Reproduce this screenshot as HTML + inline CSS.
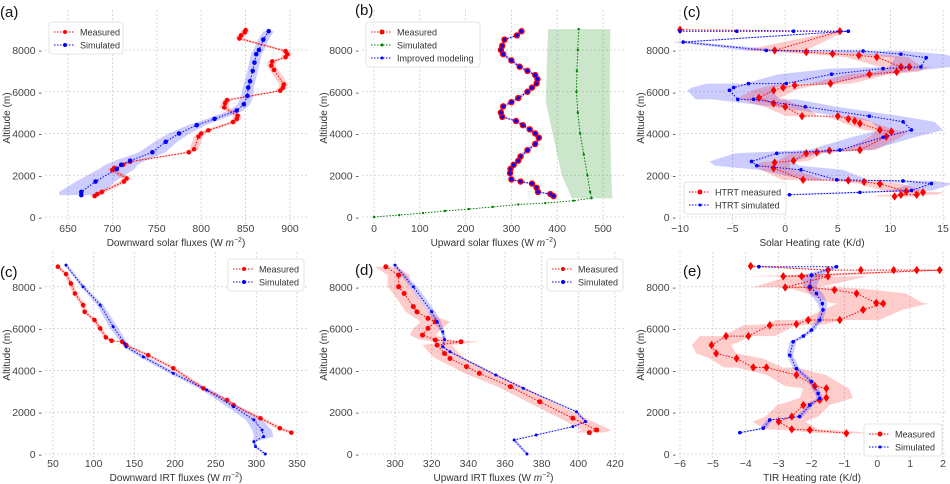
<!DOCTYPE html>
<html><head><meta charset="utf-8"><style>
html,body{margin:0;padding:0;background:#fff;}
svg{display:block;font-family:"Liberation Sans",sans-serif;}
</style></head><body>
<svg id="fig" width="950" height="484" viewBox="0 0 950 484" xmlns="http://www.w3.org/2000/svg"></svg>
<script>
// ---- data (altitude m, value) ----
const aMeasAlt=[8950,8850,8700,8550,7950,7800,7650,7450,7250,7050,6350,6200,6050,5600,5450,5250,4850,4700,4550,4150,4000,3850,3250,3100,2650,2500,2350,2250,1850,1700,1200,1100,1000];
const aMeasVal=[850,849,845,843,895,897,895,880,879,882,893,892,889,829,827,826,841,840,836,808,800,797,792,786,720,712,702,700,716,713,688,683,680];
const aMeasHW=[5,5,5,5,5,5,5,5,5,5,5,5,5,5,5,5,5,5,5,5,5,5,5,5,5,5,5,5,5,5,5,5,5];
const aSimAlt=[8900,8500,8000,7800,7400,7000,6500,6200,5800,5400,5100,4700,4400,4000,3600,3100,2700,2500,2300,1700,1200,1050];
const aSimVal=[876,870,865,862,860,858,855,853,852,848,840,815,795,775,760,745,720,710,705,681,665,665];
const aSimHW=[6,6,6,6,6,6,6,6,7,7,8,9,10,12,13,15,17,18,20,22,25,25];

const bMeasAlt=[8900,8700,8500,8200,8000,7800,7500,7200,7000,6800,6600,6400,6200,6000,5700,5500,5300,5000,4800,4600,4400,4200,4000,3800,3500,3200,2900,2700,2500,2300,2100,1800,1700,1600,1400,1200,1100,1000];
const bMeasVal=[322,312,285,280,277,282,300,318,335,352,357,355,345,335,315,300,282,277,280,310,325,340,352,360,352,335,320,315,305,298,297,300,320,345,355,358,385,392];
const bSimAlt=[9000,8000,7000,6000,5000,4000,3000,2000,1200,900,780,670,600,480,380,290,190,95,0];
const bSimVal=[447,445,443,442,445,450,458,466,472,475,436,374,315,259,207,155,107,55,0];
const bBandAlt=[9000,7000,5500,4000,3000,2000,1500,1000,900];
const bBandLo=[380,377,375,390,400,410,420,430,432];
const bBandHi=[516,515,515,516,517,518,519,520,522];

const ctMeasAlt=[8970,8900,7980,7900,7820,7740,7660,7190,7190,6950,6840,6390,6310,6200,6070,5710,5440,5280,4830,4830,4700,4600,4480,4170,4090,3850,3210,3180,3100,3050,2700,2610,2340,1780,1750,1680,1590,1220,1180,1065,1065,985];
const ctMeasVal=[-10,5.2,-1,2,4.5,7,8.7,11,11.8,10.6,8,4.3,0.9,-0.2,-1.1,-2.5,-1.1,0,1.6,5,6,6.6,7.1,9,10.1,9.6,7.1,4.2,3,2,0.8,-1,-1.1,1.7,6,7.5,9,11.5,13.1,12.5,11,10.4];
const ctMeasHW=[0.5,0.5,3,3,3,3,3,2,2,2,2,2,2,2,2,2,2,2,1.5,1.5,1.5,1.5,1.5,1.5,1.5,1.5,1.5,1.5,1.5,1.5,1.5,1.5,1.5,2,2,2,2,2,2,2,2,2];
const ctSimAlt=[8900,8900,8900,8900,8380,7980,7950,7800,7630,7190,7110,6840,6390,6390,6200,6070,5630,5640,5280,4830,4560,4170,3820,3210,3050,2660,2460,2260,1780,1730,1600,1270,1180,1065];
const ctSimVal=[-10,-4.6,0.8,6,-9.7,-1.8,7.4,11,13.4,12.9,9.3,4.4,0.1,-3.5,-4.9,-5.3,-4.5,-3,1.9,8,11.2,12,9.3,5.2,-0.8,-3.2,-2.7,1.5,4.9,11.2,13.9,12,7.1,0.4];
const ctSimHW=[0.5,0.5,0.5,0.5,1,2,4,4,3,3,5,5,4,4,4,4,4,4,3,3,3,3,3,3,4,4,4,4,3,3,2,2,2,2];

const cbMeasAlt=[8960,8610,8160,7680,7130,6800,6410,6010,5580,5420,5370,5210,4730,4100,3140,2580,2340,1710,1230,1020];
const cbMeasVal=[56,66,72,77,87,89,101,108,115,122,135,140,167,198,235,264,272,305,329,343];
const cbMeasHW=[3,3,3,3,3,3,3,3,3,3,3,3,4,4,4,4,4,5,5,5];
const cbSimAlt=[9040,8000,7130,6090,5290,5130,4650,3860,3060,2260,1630,1150,830,590,350,0];
const cbSimVal=[66,87,108,124,138,140,161,198,239,272,297,307,309,297,299,311];
const cbSimHW=[2,3,4,5,4,4,5,5,6,8,10,12,12,2,2,2];

const dMeasAlt=[8960,8560,8000,7680,7050,6800,6490,6330,6010,5690,5450,5370,5210,4810,4570,4180,3860,3220,2500,1710,1150,1020];
const dMeasVal=[295,302,302,305,310,312,318,322,318,315,322,336,323,327,330,339,346,363,379,397,410,406];
const dMeasHW=[6,6,6,6,6,6,7,8,8,7,8,10,8,8,8,8,8,7,7,7,8,8];
const dSimAlt=[9040,8000,6810,6330,5850,5480,5130,4890,3780,3140,2020,1550,1310,910,670,0];
const dSimVal=[300,310,320,323,326,327,326,330,355,370,399,404,397,377,365,372];
const dSimHW=[1,2,2,2,1,1,1,1,1,1,1,1,1,1,1,1];

const eMeasAlt=[8990,8800,8800,8800,8800,8800,8500,8500,8500,7970,7970,7850,7680,7230,7200,6900,6410,6410,6210,6160,5640,5640,5210,4810,4570,4140,4140,3780,3250,3140,2690,2580,2340,1790,1550,1180,1150,990];
const eMeasVal=[-3.85,-1.5,-0.5,0.5,1.2,1.9,-2.86,-2.3,-1.5,-2.8,-2.05,-1.3,-0.63,-0.03,0.18,-0.43,-1.14,-2.1,-2.46,-3.27,-3.92,-4.6,-5.04,-4.9,-4.28,-3.77,-3.37,-2.46,-1.9,-1.55,-1.55,-1.75,-2.25,-2.6,-3.0,-2.6,-2.05,-0.94];
const eMeasHW=[0.3,0.3,0.3,0.3,0.3,0.3,1.2,1.2,1.2,1,1,1.2,1.5,1.4,1.4,1.2,1.2,1,0.9,0.8,0.8,0.8,0.6,0.6,0.8,0.9,0.9,0.9,0.9,0.7,0.8,0.8,0.8,0.8,0.8,0.8,0.8,0.8];
const eSimAlt=[8960,8960,8560,8000,7680,7200,6900,6410,5930,5640,5370,4730,4090,3460,2900,2660,2340,1790,1630,1230,1020];
const eSimVal=[-3.6,-1.24,-2.0,-2.05,-1.85,-1.67,-1.65,-1.75,-2.0,-2.25,-2.56,-2.66,-2.46,-2.0,-1.8,-1.75,-2.05,-2.36,-3.27,-3.47,-4.18];
const eSimHW=[0.1,0.1,0.3,0.2,0.2,0.15,0.1,0.1,0.1,0.1,0.1,0.1,0.1,0.1,0.1,0.1,0.1,0.1,0.1,0.1,0.1];

const yTicks=[0,2000,4000,6000,8000];
const aTicks=[650,700,750,800,850,900];
const bTicks=[0,100,200,300,400,500];
const ctTicks=[-10,-5,0,5,10,15];
const cbTicks=[50,100,150,200,250,300,350];
const dTicks=[300,320,340,360,380,400,420];
const eTicks=[-6,-5,-4,-3,-2,-1,0,1,2];

const NS="http://www.w3.org/2000/svg";
const fig=document.getElementById('fig');
function mk(tag,attrs,parent){const e=document.createElementNS(NS,tag);for(const k in attrs)e.setAttribute(k,attrs[k]);(parent||fig).appendChild(e);return e;}

function panel(p){
  const g=mk('g',{});
  
  
  const X=v=>p.px0+(v-p.v0)*(p.px1-p.px0)/(p.v1-p.v0);
  const Y=a=>p.y0-a*p.ys;
  p.X=X;p.Y=Y;
  // grid
  p.xticks.forEach(t=>{
    const l=mk('line',{x1:X(t),x2:X(t),y1:p.top,y2:p.bot,stroke:'#cfcfcf','stroke-width':0.8,'stroke-dasharray':'2,2'},g);
    
    
    const tx=mk('text',{x:X(t),y:p.tickY,'text-anchor':'middle','font-size':10.5,fill:'#444'},g);
    
    
    tx.textContent=t<0?'\u2212'+(-t):t;
  });
  yTicks.forEach(t=>{
    const l=mk('line',{x1:p.left,x2:p.right,y1:Y(t),y2:Y(t),stroke:'#cfcfcf','stroke-width':0.8,'stroke-dasharray':'2,2'},g);
    
    
    const tx=mk('text',{x:p.left-3,y:Y(t)+4,'text-anchor':'end','font-size':10.5,fill:'#444'},g);
    
    
    tx.textContent=t+' -';
  });
  const yl=mk('text',{x:0,y:0,transform:`translate(${p.left-35},${(p.top+p.bot)/2}) rotate(-90)`,'text-anchor':'middle','font-size':10,fill:'#333'},g);
  
  
  yl.textContent='Altitude (m)';
  const xl=mk('text',{x:(p.left+p.right)/2,y:p.titleY,'text-anchor':'middle','font-size':10,fill:'#333'},g);
  
  
  xl.innerHTML=p.xlabel+' (W <tspan font-style="italic">m</tspan><tspan dy="-4" font-size="7">\u22122</tspan><tspan dy="4">)</tspan>';
  if(p.plainLabel) xl.textContent=p.plainLabel;
  const pl=mk('text',{x:p.lx,y:p.ly,'font-size':15,fill:'#111'},g);
  
  
  pl.textContent=p.label;
  return g;
}
function band(p,g,alts,vals,hw,color,name){
  let pts=alts.map((a,i)=>p.X(vals[i]-hw[i])+','+p.Y(a));
  for(let i=alts.length-1;i>=0;i--)pts.push(p.X(vals[i]+hw[i])+','+p.Y(alts[i]));
  const e=mk('polygon',{points:pts.join(' '),fill:color,'fill-opacity':0.2,stroke:'none'},g);
  
  
}
function bandLH(p,g,alts,lo,hi,color,name){
  let pts=alts.map((a,i)=>p.X(lo[i])+','+p.Y(a));
  for(let i=alts.length-1;i>=0;i--)pts.push(p.X(hi[i])+','+p.Y(alts[i]));
  const e=mk('polygon',{points:pts.join(' '),fill:color,'fill-opacity':0.2,stroke:'none'},g);
  
  
}
function series(p,g,alts,vals,color,r,name,diamond){
  const d=alts.map((a,i)=>p.X(vals[i])+','+p.Y(a)).join(' ');
  const l=mk('polyline',{points:d,fill:'none',stroke:color,'stroke-width':1,'stroke-dasharray':'1.5,1.5'},g);
  
  
  alts.forEach((a,i)=>{
    const x=p.X(vals[i]),y=p.Y(a);
    let m;
    if(diamond) m=mk('polygon',{points:`${x},${y-r*1.4} ${x+r},${y} ${x},${y+r*1.4} ${x-r},${y}`,fill:color},g);
    else m=mk('circle',{cx:x,cy:y,r:r,fill:color},g);
    
    
  });
}
function legend(g,x,y,w,items){
  const h=items.length*13+6;
  const b=mk('rect',{x:x,y:y,width:w,height:h,rx:3,fill:'#fff','fill-opacity':0.85,stroke:'#ddd','stroke-width':0.8},g);
  
  
  items.forEach((it,i)=>{
    const yy=y+10+i*13;
    const l=mk('line',{x1:x+5,x2:x+26,y1:yy,y2:yy,stroke:it[1],'stroke-width':1,'stroke-dasharray':'1.5,1.5'},g);
    
    
    const c=mk('circle',{cx:x+16,cy:yy,r:it[2],fill:it[1]},g);
    
    
    const t=mk('text',{x:x+31,y:yy+3.5,'font-size':9,fill:'#333'},g);
    
    
    t.textContent=it[0];
  });
}
const R1={y0:217,ys:0.020875,top:10,bot:226,tickY:232,titleY:246};
const R2={y0:454,ys:0.0209,top:252,bot:458,tickY:467,titleY:481};

// (a)
let p=Object.assign({name:'panel-a',left:45,right:307,v0:650,px0:68,v1:900,px1:290,xticks:aTicks,xlabel:'Downward solar fluxes',label:'(a)',lx:0,ly:17},R1);
let g=panel(p);
band(p,g,aSimAlt,aSimVal,aSimHW,'blue','simulated-band');
band(p,g,aMeasAlt,aMeasVal,aMeasHW,'red','measured-band');
series(p,g,aMeasAlt,aMeasVal,'red',2.3,'measured');
series(p,g,aSimAlt,aSimVal,'blue',2.3,'simulated');
legend(g,49,22,74,[['Measured','red',2],['Simulated','blue',2]]);

// (b)
p=Object.assign({name:'panel-b',left:362,right:625,v0:0,px0:374,v1:500,px1:603,xticks:bTicks,xlabel:'Upward solar fluxes',label:'(b)',lx:355,ly:15},R1);
g=panel(p);
bandLH(p,g,bBandAlt,bBandLo,bBandHi,'green','simulated-band');
band(p,g,bMeasAlt,bMeasVal,bMeasAlt.map(()=>6),'blue','improved-band');
series(p,g,bMeasAlt,bMeasVal,'red',3.2,'measured');
series(p,g,bMeasAlt,bMeasVal,'blue',1.8,'improved-modeling');
series(p,g,bSimAlt,bSimVal,'green',1.2,'simulated');
legend(g,366,22,114,[['Measured','red',2.5],['Simulated','green',1.5],['Improved modeling','blue',1.5]]);

// (c) top
p=Object.assign({name:'panel-c-solar-heating',left:679,right:945,v0:-10,px0:680,v1:15,px1:943,xticks:ctTicks,plainLabel:'Solar Heating rate (K/d)',xlabel:'',label:'(c)',lx:683,ly:17},R1);
g=panel(p);
band(p,g,ctSimAlt,ctSimVal,ctSimHW,'blue','simulated-band');
band(p,g,ctMeasAlt,ctMeasVal,ctMeasHW,'red','measured-band');
series(p,g,ctMeasAlt,ctMeasVal,'red',3,'htrt-measured',true);
series(p,g,ctSimAlt,ctSimVal,'blue',1.8,'htrt-simulated');
legend(g,684,182,102,[['HTRT measured','red',2.5],['HTRT simulated','blue',1.5]]);

// (c) bottom
p=Object.assign({name:'panel-c-downward-irt',left:45,right:307,v0:50,px0:53,v1:350,px1:297,xticks:cbTicks,xlabel:'Downward IRT fluxes',label:'(c)',lx:0,ly:277},R2);
g=panel(p);
band(p,g,cbSimAlt,cbSimVal,cbSimHW,'blue','simulated-band');
band(p,g,cbMeasAlt,cbMeasVal,cbMeasHW,'red','measured-band');
series(p,g,cbMeasAlt,cbMeasVal,'red',2.3,'measured');
series(p,g,cbSimAlt,cbSimVal,'blue',1.5,'simulated');
legend(g,228,259,76,[['Measured','red',2],['Simulated','blue',2]]);

// (d)
p=Object.assign({name:'panel-d',left:362,right:625,v0:300,px0:395,v1:420,px1:615,xticks:dTicks,xlabel:'Upward IRT fluxes',label:'(d)',lx:355,ly:275},R2);
g=panel(p);
band(p,g,dMeasAlt,dMeasVal,dMeasHW,'red','measured-band');
band(p,g,dSimAlt,dSimVal,dSimHW,'blue','simulated-band');
series(p,g,dMeasAlt,dMeasVal,'red',2.5,'measured');
series(p,g,dSimAlt,dSimVal,'blue',1.5,'simulated');
legend(g,547,259,76,[['Measured','red',2],['Simulated','blue',2]]);

// (e)
p=Object.assign({name:'panel-e',left:679,right:945,v0:-6,px0:680,v1:2,px1:943,xticks:eTicks,plainLabel:'TIR Heating rate (K/d)',xlabel:'',label:'(e)',lx:683,ly:276},R2);
g=panel(p);
band(p,g,eMeasAlt,eMeasVal,eMeasHW,'red','measured-band');
band(p,g,eSimAlt,eSimVal,eSimHW,'blue','simulated-band');
series(p,g,eMeasAlt,eMeasVal,'red',3,'measured',true);
series(p,g,eSimAlt,eSimVal,'blue',1.8,'simulated');
legend(g,864,424,78,[['Measured','red',2.5],['Simulated','blue',1.5]]);
</script>
</body></html>
